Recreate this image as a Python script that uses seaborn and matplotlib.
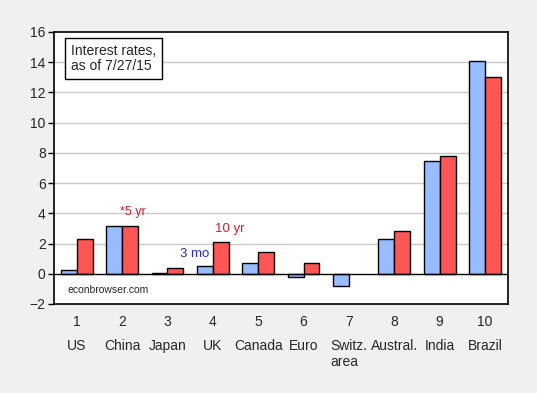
import numpy as np
import pandas as pd
import seaborn as sns
import matplotlib.pyplot as plt

# Data
countries = ['US', 'China', 'Japan', 'UK', 'Canada', 'Euro', 'Switz.\narea', 'Austral.', 'India', 'Brazil']
numbers = ['1', '2', '3', '4', '5', '6', '7', '8', '9', '10']
short_rates = [0.27, 3.13, 0.08, 0.53, 0.69, -0.20, -0.80, 2.33, 7.47, 14.07]
long_rates = [2.27, 3.13, 0.40, 2.13, 1.47, 0.69, np.nan, 2.80, 7.80, 13.00]

df = pd.DataFrame({
    'Num': numbers * 2,
    'Rate': short_rates + long_rates,
    'Maturity': ['short'] * 10 + ['long'] * 10,
})

sns.set_style('white')
plt.rcParams['font.family'] = ['Liberation Sans', 'DejaVu Sans']

fig = plt.figure(figsize=(5.37, 3.93), dpi=100, facecolor='#f0f0f0')
ax = fig.add_axes([0.1006, 0.2265, 0.8448, 0.6925])

sns.barplot(data=df, x='Num', y='Rate', hue='Maturity', order=numbers,
            hue_order=['short', 'long'], palette=['#99bbff', '#ff5555'],
            saturation=1, width=0.7, edgecolor='black', linewidth=1,
            legend=False, ax=ax)

ax.set_xlim(-0.5, 9.5)
ax.set_ylim(-2, 16)
ax.set_yticks(range(-2, 17, 2))
ax.set_xlabel('')
ax.set_ylabel('')

# grid and zero line
for v in range(2, 16, 2):
    ax.axhline(v, color='#c8c8c8', linewidth=1, zorder=0)
ax.axhline(0, color='black', linewidth=1, zorder=1)

# ticks: numbers centered, tick marks between categories
ax.set_xticks(range(10), numbers)
ax.set_xticks(np.arange(-0.5, 10, 1), minor=True)
ax.tick_params(axis='x', which='major', length=0, pad=8, labelsize=10)
ax.tick_params(axis='x', which='minor', length=4, width=1, color='black', direction='out')
ax.tick_params(axis='y', length=4, width=1, color='black', direction='out', labelsize=10, pad=2)
ax.tick_params(axis='both', bottom=True, left=True)

for s in ax.spines.values():
    s.set_color('black')
    s.set_linewidth(1.2)

for i, name in enumerate(countries):
    ax.text(i, -0.13, name, transform=ax.get_xaxis_transform(), ha='center', va='top',
            fontsize=10, linespacing=1.15, multialignment='left')

ax.text(0.037, 0.955, 'Interest rates,\nas of 7/27/15', transform=ax.transAxes,
        ha='left', va='top', fontsize=10, linespacing=1.1,
        bbox=dict(boxstyle='square,pad=0.45', facecolor='white', edgecolor='black', linewidth=1))
ax.text(-0.2, -1.05, 'econbrowser.com', ha='left', va='center', fontsize=7.5)

ax.text(1.23, 4.07, '*5 yr', color='#d0202e', ha='center', va='center', fontsize=9)
ax.text(3.37, 2.99, '10 yr', color='#d0202e', ha='center', va='center', fontsize=9.5)
ax.text(2.59, 1.3, '3 mo', color='#2a2ad0', ha='center', va='center', fontsize=9.5)

fig.savefig('out.png', dpi=100, facecolor=fig.get_facecolor())
